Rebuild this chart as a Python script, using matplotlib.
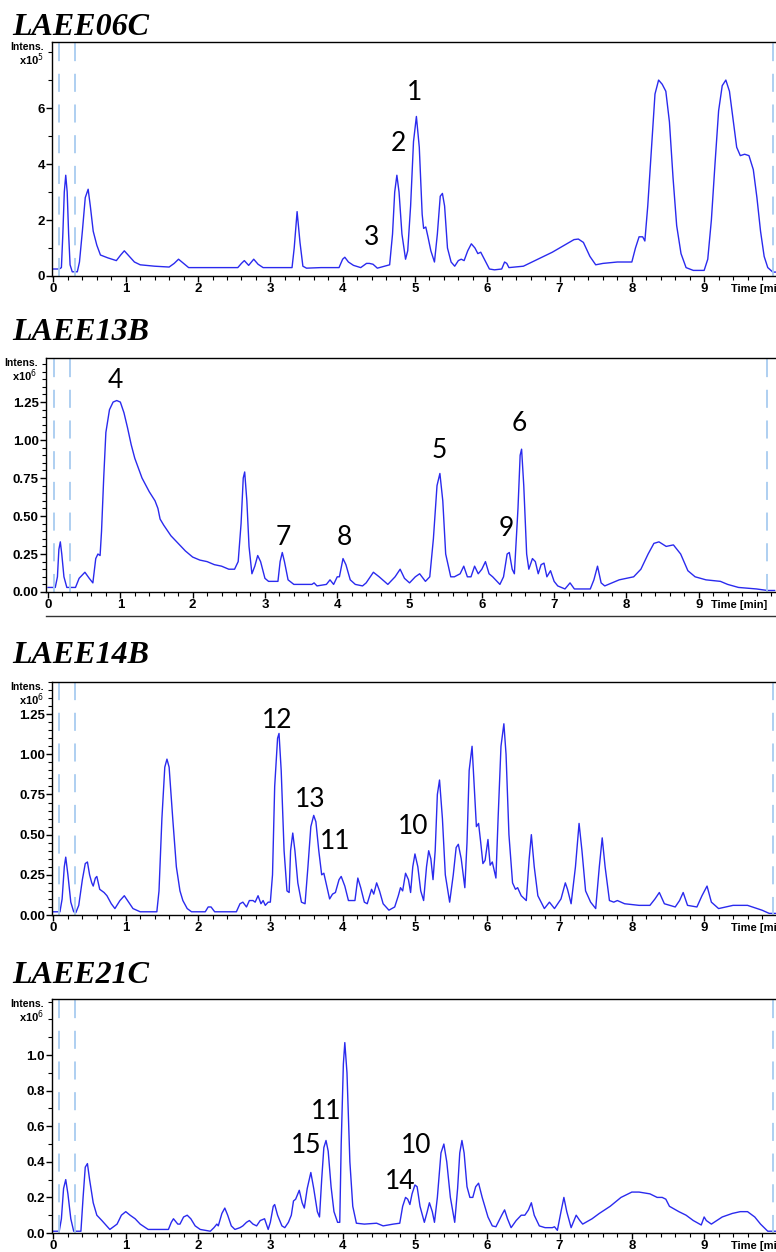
import numpy as np
import matplotlib.pyplot as plt
from matplotlib.ticker import MultipleLocator, FixedLocator
from matplotlib import font_manager
from matplotlib.lines import Line2D

W, H = 776, 1252

# chromatogram traces (time in min, intensity in panel units)
trace_06c = [(0.0,0.25),(0.08,0.25),(0.11,0.3),(0.13,1.5),(0.15,3.0),(0.17,3.6),(0.19,3.0),(0.21,1.5),(0.23,0.4),(0.26,0.15),
    (0.33,0.15),(0.36,0.5),(0.4,1.6),(0.44,2.8),(0.48,3.1),(0.51,2.5),(0.55,1.6),(0.6,1.1),(0.65,0.75),(0.75,0.65),(0.87,0.55),
    (0.93,0.75),(0.98,0.9),(1.05,0.7),(1.12,0.5),(1.2,0.4),(1.4,0.35),(1.6,0.32),(1.67,0.45),(1.73,0.6),(1.8,0.45),(1.87,0.3),
    (2.2,0.3),(2.55,0.3),(2.6,0.45),(2.64,0.55),(2.7,0.38),(2.77,0.6),(2.83,0.42),(2.9,0.3),(3.3,0.3),(3.33,1.0),(3.37,2.3),
    (3.41,1.2),(3.45,0.35),(3.5,0.28),(3.7,0.3),(3.95,0.3),(4.0,0.6),(4.03,0.67),(4.08,0.5),(4.15,0.38),(4.25,0.3),(4.33,0.45),
    (4.37,0.45),(4.42,0.42),(4.48,0.28),(4.58,0.35),(4.65,0.4),(4.69,1.5),(4.72,3.0),(4.75,3.6),(4.78,3.0),(4.82,1.5),(4.87,0.6),
    (4.9,0.9),(4.94,2.5),(4.98,4.8),(5.02,5.7),(5.06,4.6),(5.1,2.2),(5.12,1.7),(5.15,1.75),(5.18,1.4),(5.22,0.9),(5.27,0.5),
    (5.31,1.5),(5.35,2.85),(5.38,2.95),(5.41,2.5),(5.45,1.0),(5.5,0.5),(5.55,0.35),(5.6,0.55),(5.64,0.6),(5.68,0.55),(5.73,0.9),
    (5.78,1.15),(5.83,1.0),(5.87,0.8),(5.91,0.85),(5.96,0.6),(6.03,0.25),(6.1,0.22),(6.2,0.25),(6.24,0.5),(6.27,0.45),(6.3,0.3),
    (6.5,0.35),(6.7,0.6),(6.9,0.85),(7.0,1.0),(7.1,1.15),(7.2,1.3),(7.26,1.32),(7.33,1.2),(7.42,0.7),(7.5,0.4),(7.6,0.45),
    (7.8,0.5),(8.0,0.5),(8.05,1.0),(8.1,1.4),(8.15,1.4),(8.18,1.25),(8.22,2.5),(8.27,4.5),(8.32,6.5),(8.37,7.0),(8.42,6.85),
    (8.47,6.6),(8.52,5.5),(8.57,3.5),(8.62,1.8),(8.68,0.8),(8.75,0.3),(8.85,0.2),(9.0,0.2),(9.05,0.6),(9.1,2.0),(9.15,4.0),
    (9.2,5.9),(9.25,6.8),(9.3,7.0),(9.35,6.6),(9.4,5.6),(9.45,4.6),(9.5,4.3),(9.56,4.35),(9.62,4.3),(9.68,3.8),(9.73,2.8),
    (9.78,1.6),(9.83,0.7),(9.88,0.3),(9.95,0.14),(10.0,0.14)]

trace_13b = [(0.0,0.03),(0.1,0.03),(0.13,0.1),(0.15,0.28),(0.17,0.33),(0.19,0.25),(0.22,0.1),(0.26,0.03),(0.38,0.03),(0.43,0.09),
    (0.51,0.13),(0.57,0.09),(0.62,0.06),(0.66,0.22),(0.69,0.25),(0.72,0.24),(0.74,0.4),(0.77,0.75),(0.8,1.05),(0.85,1.2),
    (0.9,1.25),(0.95,1.26),(1.0,1.25),(1.05,1.18),(1.1,1.08),(1.15,0.97),(1.2,0.88),(1.3,0.75),(1.4,0.66),(1.48,0.6),(1.52,0.55),
    (1.55,0.48),(1.6,0.44),(1.7,0.37),(1.8,0.32),(1.9,0.27),(2.0,0.23),(2.1,0.21),(2.2,0.2),(2.3,0.18),(2.4,0.17),(2.5,0.15),
    (2.58,0.15),(2.63,0.2),(2.67,0.45),(2.7,0.75),(2.72,0.79),(2.75,0.6),(2.78,0.3),(2.82,0.12),(2.86,0.17),(2.9,0.24),
    (2.94,0.2),(3.0,0.09),(3.05,0.07),(3.18,0.07),(3.21,0.2),(3.24,0.26),(3.27,0.2),(3.32,0.08),(3.4,0.05),(3.65,0.05),
    (3.68,0.06),(3.72,0.04),(3.85,0.05),(3.9,0.08),(3.95,0.05),(4.0,0.1),(4.03,0.1),(4.08,0.22),(4.12,0.18),(4.18,0.08),
    (4.25,0.05),(4.35,0.04),(4.4,0.06),(4.5,0.13),(4.58,0.1),(4.7,0.05),(4.8,0.1),(4.87,0.15),(4.93,0.09),(5.0,0.06),(5.08,0.1),
    (5.14,0.12),(5.22,0.07),(5.28,0.1),(5.33,0.35),(5.38,0.7),(5.42,0.78),(5.46,0.6),(5.5,0.25),(5.57,0.1),(5.62,0.1),(5.7,0.12),
    (5.75,0.17),(5.8,0.1),(5.85,0.1),(5.9,0.17),(5.95,0.12),(6.0,0.15),(6.05,0.2),(6.1,0.12),(6.15,0.1),(6.25,0.05),(6.3,0.1),
    (6.35,0.25),(6.38,0.26),(6.42,0.15),(6.45,0.12),(6.5,0.55),(6.53,0.9),(6.55,0.94),(6.58,0.7),(6.62,0.25),(6.65,0.15),
    (6.7,0.22),(6.74,0.2),(6.78,0.12),(6.82,0.18),(6.86,0.19),(6.9,0.1),(6.95,0.14),(7.0,0.07),(7.05,0.04),(7.15,0.02),
    (7.22,0.06),(7.28,0.02),(7.5,0.02),(7.55,0.08),(7.6,0.17),(7.65,0.06),(7.7,0.04),(7.9,0.08),(8.1,0.1),(8.2,0.15),(8.3,0.25),
    (8.38,0.32),(8.45,0.33),(8.55,0.3),(8.65,0.31),(8.75,0.25),(8.85,0.14),(8.95,0.1),(9.1,0.08),(9.3,0.07),(9.4,0.05),
    (9.55,0.03),(9.8,0.02),(9.95,0.01),(10.05,0.01)]

trace_14b = [(0.0,0.02),(0.09,0.02),(0.12,0.1),(0.15,0.3),(0.17,0.36),(0.2,0.25),(0.24,0.08),(0.28,0.02),(0.31,0.015),(0.35,0.06),
    (0.4,0.22),(0.44,0.32),(0.47,0.33),(0.5,0.25),(0.53,0.2),(0.55,0.18),(0.58,0.23),(0.6,0.24),(0.64,0.16),(0.7,0.14),(0.74,0.12),
    (0.8,0.07),(0.85,0.04),(0.92,0.09),(0.98,0.12),(1.04,0.08),(1.1,0.04),(1.2,0.02),(1.43,0.02),(1.46,0.15),(1.5,0.6),(1.54,0.92),
    (1.57,0.97),(1.6,0.92),(1.65,0.6),(1.7,0.3),(1.75,0.15),(1.79,0.09),(1.85,0.04),(1.91,0.02),(2.1,0.02),(2.14,0.05),(2.18,0.05),
    (2.23,0.02),(2.53,0.02),(2.58,0.07),(2.62,0.08),(2.67,0.05),(2.71,0.09),(2.76,0.09),(2.79,0.08),(2.83,0.12),(2.87,0.07),
    (2.9,0.09),(2.93,0.06),(2.97,0.08),(3.0,0.08),(3.03,0.25),(3.06,0.8),(3.1,1.1),(3.12,1.13),(3.15,0.9),(3.19,0.4),(3.23,0.15),
    (3.26,0.14),(3.28,0.4),(3.31,0.51),(3.34,0.4),(3.38,0.2),(3.43,0.08),(3.48,0.07),(3.52,0.3),(3.56,0.55),(3.6,0.62),(3.63,0.58),
    (3.67,0.4),(3.71,0.25),(3.74,0.26),(3.78,0.18),(3.82,0.1),(3.86,0.13),(3.9,0.14),(3.95,0.22),(3.98,0.24),(4.03,0.18),
    (4.08,0.09),(4.17,0.09),(4.21,0.23),(4.25,0.17),(4.3,0.08),(4.34,0.07),(4.4,0.16),(4.43,0.13),(4.47,0.2),(4.51,0.15),
    (4.56,0.07),(4.64,0.03),(4.72,0.05),(4.77,0.12),(4.8,0.17),(4.83,0.15),(4.87,0.26),(4.91,0.22),(4.94,0.14),(4.97,0.3),
    (5.0,0.38),(5.04,0.3),(5.08,0.15),(5.12,0.09),(5.16,0.3),(5.19,0.4),(5.22,0.35),(5.25,0.22),(5.28,0.4),(5.31,0.75),(5.34,0.84),
    (5.38,0.6),(5.42,0.25),(5.48,0.08),(5.53,0.25),(5.57,0.42),(5.6,0.44),(5.64,0.35),(5.69,0.17),(5.72,0.45),(5.75,0.9),
    (5.79,1.05),(5.82,0.8),(5.85,0.55),(5.88,0.57),(5.91,0.45),(5.94,0.32),(5.97,0.34),(6.01,0.47),(6.04,0.31),(6.07,0.33),
    (6.12,0.23),(6.15,0.6),(6.19,1.05),(6.23,1.19),(6.26,1.0),(6.3,0.5),(6.35,0.2),(6.39,0.16),(6.42,0.17),(6.47,0.12),
    (6.54,0.09),(6.58,0.35),(6.61,0.5),(6.65,0.3),(6.7,0.12),(6.79,0.04),(6.86,0.08),(6.93,0.04),(7.02,0.1),(7.08,0.2),
    (7.11,0.16),(7.16,0.07),(7.22,0.3),(7.27,0.57),(7.31,0.4),(7.36,0.15),(7.43,0.08),(7.5,0.04),(7.55,0.3),(7.59,0.48),
    (7.63,0.3),(7.69,0.09),(7.75,0.08),(7.8,0.09),(7.9,0.07),(8.1,0.06),(8.25,0.06),(8.32,0.1),(8.38,0.14),(8.45,0.07),
    (8.6,0.05),(8.66,0.09),(8.71,0.14),(8.77,0.06),(8.9,0.05),(8.97,0.12),(9.04,0.18),(9.1,0.08),(9.2,0.04),(9.4,0.06),
    (9.6,0.06),(9.8,0.03),(9.9,0.01),(10.0,0.01)]

trace_21c = [(0.0,0.01),(0.08,0.01),(0.11,0.08),(0.14,0.25),(0.17,0.3),(0.2,0.22),(0.24,0.08),(0.28,0.01),(0.38,0.01),(0.41,0.2),
    (0.44,0.37),(0.47,0.39),(0.5,0.3),(0.55,0.17),(0.6,0.1),(0.67,0.07),(0.78,0.02),(0.88,0.05),(0.94,0.1),(1.0,0.12),(1.06,0.1),
    (1.13,0.08),(1.2,0.05),(1.31,0.02),(1.59,0.02),(1.63,0.06),(1.66,0.08),(1.72,0.05),(1.75,0.05),(1.8,0.09),(1.85,0.1),
    (1.9,0.08),(1.96,0.04),(2.03,0.02),(2.17,0.01),(2.22,0.03),(2.26,0.05),(2.28,0.04),(2.33,0.11),(2.37,0.14),(2.41,0.1),
    (2.46,0.04),(2.51,0.02),(2.58,0.03),(2.62,0.04),(2.67,0.06),(2.71,0.07),(2.76,0.05),(2.81,0.04),(2.86,0.07),(2.92,0.08),
    (2.97,0.02),(3.0,0.06),(3.04,0.15),(3.06,0.16),(3.1,0.1),(3.16,0.04),(3.2,0.03),(3.25,0.06),(3.29,0.1),(3.32,0.18),
    (3.35,0.19),(3.4,0.24),(3.44,0.17),(3.47,0.14),(3.51,0.25),(3.56,0.34),(3.6,0.25),(3.65,0.12),(3.68,0.09),(3.71,0.3),
    (3.74,0.48),(3.77,0.52),(3.8,0.46),(3.84,0.26),(3.88,0.12),(3.93,0.06),(3.96,0.06),(3.98,0.5),(4.01,0.95),(4.03,1.07),
    (4.06,0.9),(4.1,0.4),(4.14,0.15),(4.19,0.055),(4.3,0.05),(4.47,0.055),(4.56,0.04),(4.7,0.05),(4.79,0.055),(4.83,0.15),
    (4.87,0.2),(4.9,0.19),(4.93,0.16),(4.96,0.22),(5.0,0.27),(5.03,0.26),(5.07,0.15),(5.13,0.06),(5.17,0.12),(5.2,0.17),
    (5.24,0.12),(5.27,0.06),(5.31,0.2),(5.36,0.45),(5.4,0.5),(5.44,0.4),(5.49,0.2),(5.55,0.06),(5.59,0.25),(5.62,0.45),
    (5.65,0.52),(5.68,0.45),(5.72,0.26),(5.76,0.2),(5.8,0.2),(5.84,0.26),(5.88,0.28),(5.93,0.2),(6.01,0.09),(6.07,0.04),
    (6.12,0.035),(6.2,0.1),(6.24,0.13),(6.28,0.08),(6.33,0.03),(6.4,0.07),(6.47,0.1),(6.52,0.1),(6.57,0.13),(6.61,0.17),
    (6.65,0.1),(6.72,0.04),(6.8,0.03),(6.9,0.03),(6.93,0.035),(6.97,0.015),(7.02,0.12),(7.06,0.2),(7.1,0.12),(7.16,0.03),
    (7.23,0.1),(7.28,0.07),(7.32,0.05),(7.45,0.08),(7.55,0.11),(7.7,0.15),(7.85,0.2),(8.0,0.23),(8.1,0.23),(8.25,0.22),
    (8.35,0.2),(8.42,0.2),(8.47,0.19),(8.52,0.15),(8.65,0.12),(8.75,0.1),(8.85,0.07),(8.96,0.045),(9.0,0.09),(9.03,0.07),
    (9.1,0.05),(9.25,0.09),(9.39,0.11),(9.5,0.12),(9.6,0.12),(9.7,0.09),(9.78,0.05),(9.88,0.01),(10.0,0.01)]

names = ["LAEE06C", "LAEE13B", "LAEE14B", "LAEE21C"]
exponents = ["5", "6", "6", "6"]

# peak labels (text, time, intensity)
peaks_06c = [("1", 5.0, 6.54), ("2", 4.77, 4.75), ("3", 4.4, 1.36)]
peaks_13b = [("4", 0.93, 1.395), ("7", 3.26, 0.36), ("8", 4.1, 0.36), ("5", 5.41, 0.93), ("6", 6.52, 1.11), ("9", 6.34, 0.42)]
peaks_14b = [("12", 3.1, 1.21), ("13", 3.55, 0.72), ("11", 3.89, 0.46), ("10", 4.97, 0.55)]
peaks_21c = [("11", 3.77, 0.685), ("15", 3.49, 0.49), ("10", 5.02, 0.49), ("14", 4.8, 0.29)]

# y axis: (top, major step, last labelled value, label format, minor step)
yaxes = [(8.36, 2, 6, "{:.0f}", 1), (1.54, 0.25, 1.25, "{:.2f}", 0.05),
         (1.45, 0.25, 1.25, "{:.2f}", 0.05), (1.315, 0.2, 1.0, "{:.1f}", 0.1)]

traces = [trace_06c, trace_13b, trace_14b, trace_21c]
peaks = [peaks_06c, peaks_13b, peaks_14b, peaks_21c]

# layout in pixels: left spine, top, bottom, x start, "Time [min]" x
boxes = [(52, 42, 276, -0.02, 731), (45.5, 358, 592, -0.035, 711), (52, 682, 915, -0.02, 731), (52, 999, 1233, -0.02, 731)]
title_base = [35, 340, 663, 983]

avail = set(f.name for f in font_manager.fontManager.ttflist)
tickfont = "Liberation Sans Narrow" if "Liberation Sans Narrow" in avail else "Liberation Sans"
numfont = "Lato" if "Lato" in avail else "DejaVu Sans"

fig = plt.figure(figsize=(W/100, H/100), dpi=100)

for k in range(4):
    left, top, bottom, x0, xtime = boxes[k]
    ax = fig.add_axes([left/W, 1-bottom/H, (W-left)/W, (bottom-top)/H])
    t = [p[0] for p in traces[k]]
    v = [p[1] for p in traces[k]]
    ax.plot(t, v, color="#2a2aee", lw=1.0)
    ymax, step, ylab, fmt, minor = yaxes[k]
    ax.set_xlim(x0, x0 + (W-left)/72.3)
    ax.set_ylim(0, ymax)
    # dashed guide lines
    for xv in [0.08, 0.3, 9.95]:
        ax.axvline(xv, color="#a8ccf0", lw=1.3, dashes=(10, 7))
    ax.spines["right"].set_visible(False)
    for s in ["top", "left", "bottom"]:
        ax.spines[s].set_linewidth(1.0)
    ax.xaxis.set_major_locator(FixedLocator(range(0, 10)))
    ax.xaxis.set_minor_locator(MultipleLocator(0.2))
    yt = np.arange(0, ylab + step/2, step)
    ax.yaxis.set_major_locator(FixedLocator(yt))
    ax.yaxis.set_minor_locator(MultipleLocator(minor))
    ax.set_yticklabels([fmt.format(y) for y in yt])
    ax.tick_params(which="major", direction="out", length=4, width=1, pad=1)
    ax.tick_params(which="minor", direction="out", length=3, width=0.8)
    for lab in ax.get_xticklabels() + ax.get_yticklabels():
        lab.set_fontfamily(tickfont)
        lab.set_fontweight("bold")
        lab.set_fontsize(9.5)
    for txt, tx, ty in peaks[k]:
        ax.text(tx, ty, txt, ha="center", va="center", fontsize=19, family=numfont)
    # title and axis annotations
    fig.text(12/W, 1-title_base[k]/H, names[k], family="Liberation Serif", weight="bold",
             style="italic", fontsize=23, va="baseline")
    fig.text((left-8)/W, 1-(top+5)/H, "Intens.", ha="right", va="center", family=tickfont,
             weight="bold", fontsize=7.5)
    fig.text((left-8)/W, 1-(top+18)/H, "x10$^{" + exponents[k] + "}$", ha="right", va="center",
             family=tickfont, weight="bold", fontsize=8)
    fig.text(xtime/W, 1-(bottom+13)/H, "Time [min]", ha="left", va="center", family=tickfont,
             weight="bold", fontsize=8)

# separator line under the second chromatogram
fig.add_artist(Line2D([46/W, 1], [1-616/H, 1-616/H], color="#333333", lw=1.0))

plt.savefig("out.png", dpi=100)
